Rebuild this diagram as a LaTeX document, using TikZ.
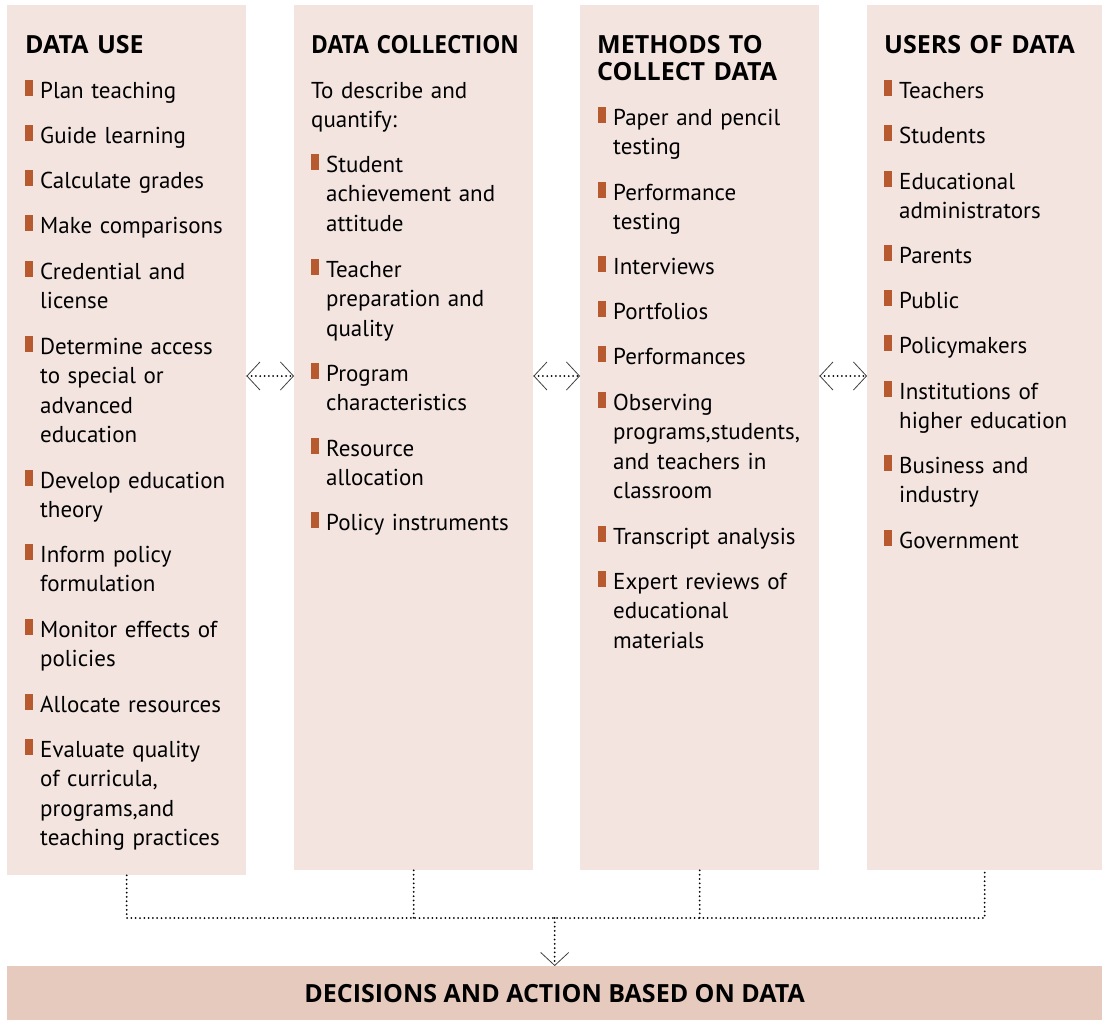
\documentclass[tikz,border=0pt]{standalone}
\usepackage{fontspec}
\setmainfont{PT Sans}
\newfontfamily\headfam{Open Sans}
\usetikzlibrary{arrows.meta}
\definecolor{panelcol}{HTML}{F3E4DF}
\definecolor{barcol}{HTML}{E6CABD}
\definecolor{markcol}{HTML}{B85A30}
\newcommand{\itemfont}{\fontsize{23}{29.5}\selectfont}
\newcommand{\headfont}{\headfam\fontsize{25}{27}\selectfont\bfseries}

\begin{document}
\begin{tikzpicture}[x=1pt, y=-1pt]
\tikzset{dbox/.style={anchor=north west, fill=panelcol, inner sep=0pt, minimum width=239pt}}
\tikzset{dhead/.style={anchor=base west, inner sep=0pt, text width=260pt, align=left, font=\headfont}}
\tikzset{ditem/.style={anchor=base west, inner sep=0pt, text width=200pt, align=left, font=\itemfont}}
\tikzset{dmark/.style={fill=markcol}}
\tikzset{dflow/.style={line width=2pt, line cap=round, dash pattern=on 0pt off 4.3pt}}
\tikzset{dtip/.tip={Straight Barb[length=13pt, width=28pt, line width=0.8pt, color=black!75]}}
\useasboundingbox (0,0) rectangle (1102,1020);
% four panels
\node[dbox, minimum height=870pt] (use) at (7,5) {};
\node[dbox, minimum height=865pt] (coll) at (294,5) {};
\node[dbox, minimum height=865pt] (meth) at (580,5) {};
\node[dbox, minimum height=865pt, minimum width=235pt] (users) at (867,5) {};
% headings
\node[dhead] (useh) at (25,53) {DATA USE};
\node[dhead] (collh) at (311,53) {\scalebox{0.91}[1]{DATA COLLECTION}};
\node[dhead] (methh) at (597,53) {METHODS TO\\COLLECT DATA};
\node[dhead] (usersh) at (884,53) {USERS OF DATA};
% data use
\foreach \y/\txt [count=\i] in {98/Plan teaching, 143/Guide learning,
    188/Calculate grades, 233/Make comparisons, 279/Credential and\\license,
    354/Determine access\\to special or\\advanced\\education,
    488/Develop education\\theory, 562/Inform policy\\formulation,
    637/Monitor effects of\\policies, 712/Allocate resources,
    {757/Evaluate quality\\of curricula,\\programs,and\\teaching practices}} {
  \fill[dmark] (25,\y-18.5) rectangle ++(7.5,16);
  \node[ditem] (use\i) at (40,\y) {\txt};
}
% data collection
\node[ditem] (collintro) at (311,98) {To describe and\\quantify:};
\foreach \y/\txt [count=\i] in {172/Student\\achievement and\\attitude,
    277/Teacher\\preparation and\\quality, 381/Program\\characteristics,
    456/Resource\\allocation, 530/Policy instruments} {
  \fill[dmark] (311,\y-18.5) rectangle ++(7.5,16);
  \node[ditem] (coll\i) at (326,\y) {\txt};
}
% methods
\foreach \y/\txt [count=\i] in {125/Paper and pencil\\testing,
    200/Performance\\testing, 274/Interviews, 319/Portfolios,
    364/Performances, {410/Observing\\programs,students,\\and teachers in\\classroom},
    544/Transcript analysis, 589/Expert reviews of\\educational\\materials} {
  \fill[dmark] (598,\y-18.5) rectangle ++(7.5,16);
  \node[ditem] (meth\i) at (613,\y) {\txt};
}
% users
\foreach \y/\txt [count=\i] in {98/Teachers, 143/Students,
    189/Educational\\administrators, 263/Parents, 308/Public,
    353/Policymakers, 399/Institutions of\\higher education,
    473/Business and\\industry, 548/Government} {
  \fill[dmark] (884,\y-18.5) rectangle ++(7.5,16);
  \node[ditem] (users\i) at (899,\y) {\txt};
}
% decisions bar
\node[anchor=north west, fill=barcol, inner sep=0pt, minimum width=1095pt,
  minimum height=54pt, font=\headfont] (dec) at (7,966) {DECISIONS AND ACTION BASED ON DATA};
% links between panels
\coordinate (arow) at (0,376);
\draw[dflow, dtip-dtip] (use.east |- arow) -- (coll.west |- arow);
\draw[dflow, dtip-dtip] (coll.east |- arow) -- (meth.west |- arow);
\draw[dflow, dtip-dtip] (meth.east |- arow) -- (users.west |- arow);
% gather into the bar
\coordinate (jn) at (0,918);
\draw[dflow] (use.south) -- (use.south |- jn) -- (users.south |- jn) -- (users.south);
\draw[dflow] (coll.south) -- (coll.south |- jn);
\draw[dflow] (meth.south) -- (meth.south |- jn);
\draw[dflow, -dtip] (dec.north |- jn) -- (dec.north);
\end{tikzpicture}
\end{document}
